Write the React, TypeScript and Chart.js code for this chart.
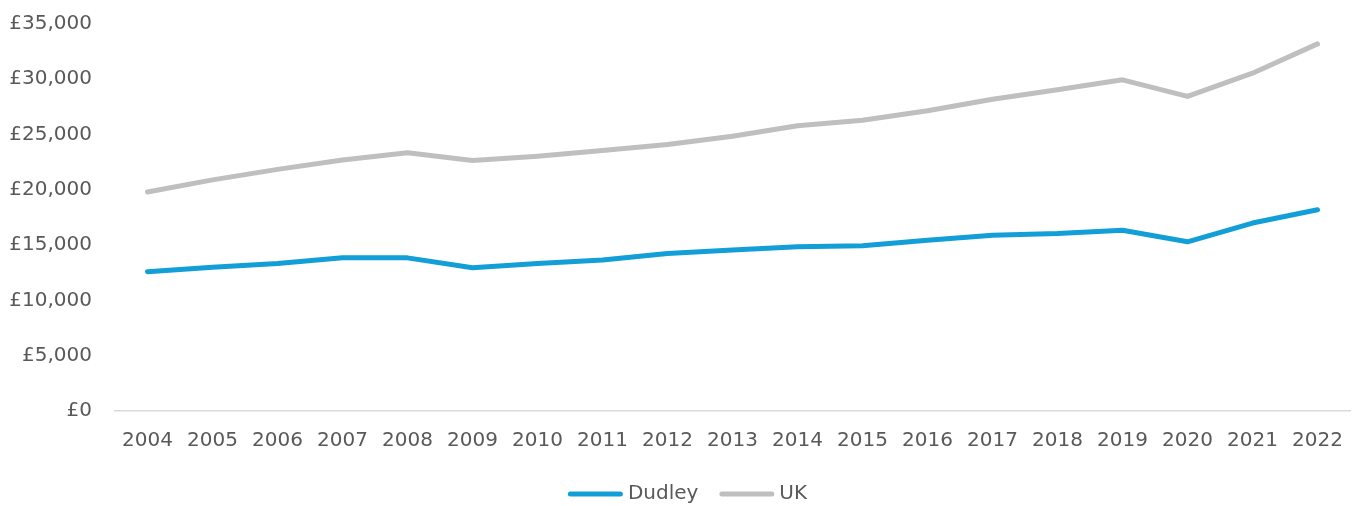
import React, { useEffect, useRef } from "react";
import { Chart, registerables } from "chart.js";

Chart.register(...registerables);

const years = ["2004", "2005", "2006", "2007", "2008", "2009", "2010", "2011", "2012", "2013", "2014", "2015", "2016", "2017", "2018", "2019", "2020", "2021", "2022"];
const dudley = [12600, 13000, 13350, 13850, 13850, 12950, 13350, 13650, 14250, 14550, 14850, 14950, 15450, 15900, 16050, 16350, 15300, 17000, 18200];
const uk = [19800, 20900, 21850, 22700, 23350, 22650, 23050, 23550, 24100, 24850, 25800, 26300, 27150, 28200, 29050, 29950, 28450, 30550, 33200];
const seriesNames = ["Dudley", "UK"];
const seriesColors = ["#129FD7", "#BFBFBF"];

const FONT = "'DejaVu Sans', sans-serif";
const TEXT_COLOR = "#595959";

const legendPlugin = {
  id: "customLegend",
  afterDraw(chart: any) {
    const ctx = chart.ctx;
    const items = chart.data.datasets.map((d: any) => ({ label: d.label, color: d.borderColor }));
    const lineW = 55;
    const gapText = 5;
    const gapItem = 21;
    ctx.save();
    ctx.font = `20px ${FONT}`;
    const widths = items.map((it: any) => lineW + gapText + ctx.measureText(it.label).width);
    const total = widths.reduce((a: number, b: number) => a + b, 0) + gapItem * (items.length - 1);
    let x = (chart.width - total) / 2 + 10;
    const y = chart.height - 12;
    items.forEach((it: any, i: number) => {
      ctx.strokeStyle = it.color;
      ctx.lineWidth = 5;
      ctx.lineCap = "round";
      ctx.beginPath();
      ctx.moveTo(x + 2.5, y);
      ctx.lineTo(x + lineW - 2.5, y);
      ctx.stroke();
      ctx.fillStyle = TEXT_COLOR;
      ctx.textBaseline = "middle";
      ctx.textAlign = "left";
      ctx.fillText(it.label, x + lineW + gapText, y);
      x += widths[i] + gapItem;
    });
    ctx.restore();
  },
};

export default function App() {
  const canvasRef = useRef<HTMLCanvasElement | null>(null);

  useEffect(() => {
    if (!canvasRef.current) return;
    const chart = new Chart(canvasRef.current, {
      type: "line",
      data: {
        labels: years,
        datasets: [
          {
            label: seriesNames[0],
            data: dudley,
            borderColor: seriesColors[0],
            backgroundColor: seriesColors[0],
            borderWidth: 5,
            pointRadius: 0,
            tension: 0,
            borderCapStyle: "round",
            borderJoinStyle: "round",
          },
          {
            label: seriesNames[1],
            data: uk,
            borderColor: seriesColors[1],
            backgroundColor: seriesColors[1],
            borderWidth: 5,
            pointRadius: 0,
            tension: 0,
            borderCapStyle: "round",
            borderJoinStyle: "round",
          },
        ],
      },
      options: {
        animation: false,
        responsive: true,
        maintainAspectRatio: false,
        layout: { padding: { top: 24, right: 5, bottom: 53, left: 0 } },
        plugins: {
          legend: { display: false },
          tooltip: { enabled: false },
        },
        scales: {
          x: {
            offset: true,
            grid: { display: false, drawTicks: false },
            border: { display: true, color: "#D9D9D9", width: 1.5 },
            afterFit: (scale: any) => {
              scale.height = 42;
              scale.paddingLeft = 0;
              scale.paddingRight = 0;
            },
            ticks: {
              padding: 18,
              maxRotation: 0,
              autoSkip: false,
              color: TEXT_COLOR,
              font: { family: FONT, size: 20 },
            },
          },
          y: {
            min: 0,
            max: 35000,
            grid: { display: false, drawTicks: false },
            border: { display: false },
            afterFit: (scale: any) => {
              scale.width = 115;
              scale.paddingTop = 0;
              scale.paddingBottom = 0;
            },
            ticks: {
              stepSize: 5000,
              padding: 23,
              color: TEXT_COLOR,
              font: { family: FONT, size: 20 },
              callback: (v: any) => "£" + Number(v).toLocaleString("en-GB"),
            },
          },
        },
      },
      plugins: [legendPlugin],
    });
    return () => chart.destroy();
  }, []);

  return (
    <div style={{ position: "absolute", left: 0, top: 0, width: 1355, height: 506, background: "#fff" }}>
      <canvas ref={canvasRef} />
    </div>
  );
}
